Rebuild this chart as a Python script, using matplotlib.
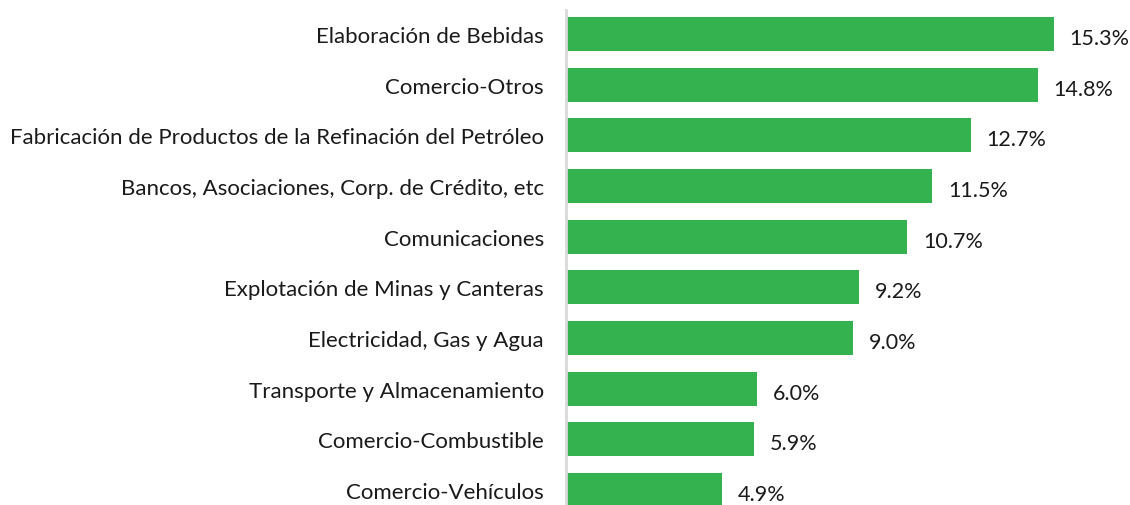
import matplotlib
matplotlib.use("Agg")
import matplotlib.pyplot as plt

plt.rcParams['font.family'] = ['Lato', 'DejaVu Sans']

# datos
sectores = [
    "Elaboración de Bebidas",
    "Comercio-Otros",
    "Fabricación de Productos de la Refinación del Petróleo",
    "Bancos, Asociaciones, Corp. de Crédito, etc",
    "Comunicaciones",
    "Explotación de Minas y Canteras",
    "Electricidad, Gas y Agua",
    "Transporte y Almacenamiento",
    "Comercio-Combustible",
    "Comercio-Vehículos",
]
valores = [15.3, 14.8, 12.7, 11.5, 10.7, 9.2, 9.0, 6.0, 5.9, 4.9]

fig = plt.figure(figsize=(11.3, 5.06), dpi=100)
ax = fig.add_axes([566/1130, -13/506, (1130-566)/1130, (519-11)/506])

pos = list(range(len(sectores)))
ax.barh(pos, valores, height=0.67, color="#33b24f")
for p, v in zip(pos, valores):
    ax.text(v + 0.5, p + 0.08, f"{v:.1f}%", va="center", ha="left", fontsize=15.5, color="#1a1a1a")

ax.set_xlim(0, 17.7)
ax.set_ylim(9.55, -0.47)
ax.set_yticks(pos)
ax.set_yticklabels(sectores, fontsize=16, color="#1a1a1a")
ax.tick_params(axis="y", length=0, pad=16)
ax.set_xticks([])
for s in ["top", "right", "bottom"]:
    ax.spines[s].set_visible(False)
ax.spines["left"].set_color("#d9d9d9")
ax.spines["left"].set_linewidth(2)

fig.savefig("out.png", dpi=100)
